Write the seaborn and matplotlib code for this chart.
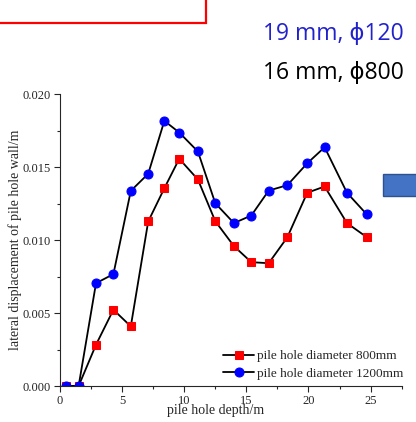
import pandas as pd
import matplotlib.pyplot as plt
import matplotlib.patches as mpatches
from matplotlib.ticker import MultipleLocator
import seaborn as sns

# pile hole depth (m)
depth = [0.5, 1.5, 2.9, 4.3, 5.7, 7.1, 8.4, 9.6, 11.1, 12.5, 14.0, 15.4, 16.8, 18.3, 19.9, 21.3, 23.1, 24.7]
# lateral displacement of pile hole wall (m)
disp_800 = [0.0, 0.0, 0.00283, 0.00523, 0.00409, 0.01128, 0.01356, 0.01558, 0.01416, 0.0113,
            0.00959, 0.00849, 0.00842, 0.0102, 0.01325, 0.01368, 0.01117, 0.0102]
disp_1200 = [0.0, 0.0, 0.00705, 0.00767, 0.01338, 0.01455, 0.01818, 0.01738, 0.01608, 0.01253,
             0.01117, 0.01169, 0.0134, 0.01377, 0.01527, 0.01637, 0.01325, 0.01176]

label_800 = "pile hole diameter 800mm"
label_1200 = "pile hole diameter 1200mm"

df = pd.DataFrame({"depth": depth, "d800": disp_800, "d1200": disp_1200})

sns.set_style("ticks")
plt.rcParams["font.family"] = ["Liberation Serif", "DejaVu Serif"]

fig = plt.figure(figsize=(4.16, 4.22), dpi=100)
ax = fig.add_axes([0.1442, 0.0853, 0.8213, 0.6912])

sns.lineplot(data=df, x="depth", y="d800", ax=ax, color="black", lw=1.3,
             marker="s", markersize=5.5, markerfacecolor="red", markeredgecolor="red",
             label=label_800)
sns.lineplot(data=df, x="depth", y="d1200", ax=ax, color="black", lw=1.3,
             marker="o", markersize=6.5, markerfacecolor="blue", markeredgecolor="blue",
             label=label_1200)

ax.set_xlim(0, 27.5)
ax.set_ylim(0, 0.020)
ax.xaxis.set_major_locator(MultipleLocator(5))
ax.xaxis.set_minor_locator(MultipleLocator(2.5))
ax.yaxis.set_major_locator(MultipleLocator(0.005))
ax.yaxis.set_minor_locator(MultipleLocator(0.0025))
ax.yaxis.set_major_formatter(plt.FormatStrFormatter("%.3f"))
ax.tick_params(which="major", length=4.5, width=0.8, labelsize=9, pad=2)
ax.tick_params(which="minor", length=2.5, width=0.8)
sns.despine(ax=ax)

ax.set_xlabel("pile hole depth/m", fontsize=10)
ax.set_ylabel("lateral displacement of pile hole wall/m", fontsize=10)
ax.xaxis.set_label_coords(0.455, -0.062)
ax.yaxis.set_label_coords(-0.11, 0.5)

ax.legend(loc="lower right", bbox_to_anchor=(1.04, -0.019), frameon=False, fontsize=9.5,
          handlelength=2.4, handletextpad=0.2, labelspacing=0.4)

# slide decorations around the chart
fig.patches.append(mpatches.Rectangle((-0.02, 1 - 23 / 422), 0.02 + 206 / 416, 0.1,
                                      transform=fig.transFigure, fill=False,
                                      edgecolor="#ff0000", lw=1.6))
fig.patches.append(mpatches.Rectangle((383 / 416, 1 - 196 / 422), 0.1, 22 / 422,
                                      transform=fig.transFigure, facecolor="#4472c4",
                                      edgecolor="#2f528f", lw=1))
fig.text(263 / 416, 1 - 40 / 422, "19 mm, ϕ120", color="#2222cc", fontsize=16.5,
         family=["Open Sans", "DejaVu Sans"], va="baseline")
fig.text(263 / 416, 1 - 79 / 422, "16 mm, ϕ800", color="black", fontsize=16.5,
         family=["Open Sans", "DejaVu Sans"], va="baseline")

fig.savefig("out.png", dpi=100)
